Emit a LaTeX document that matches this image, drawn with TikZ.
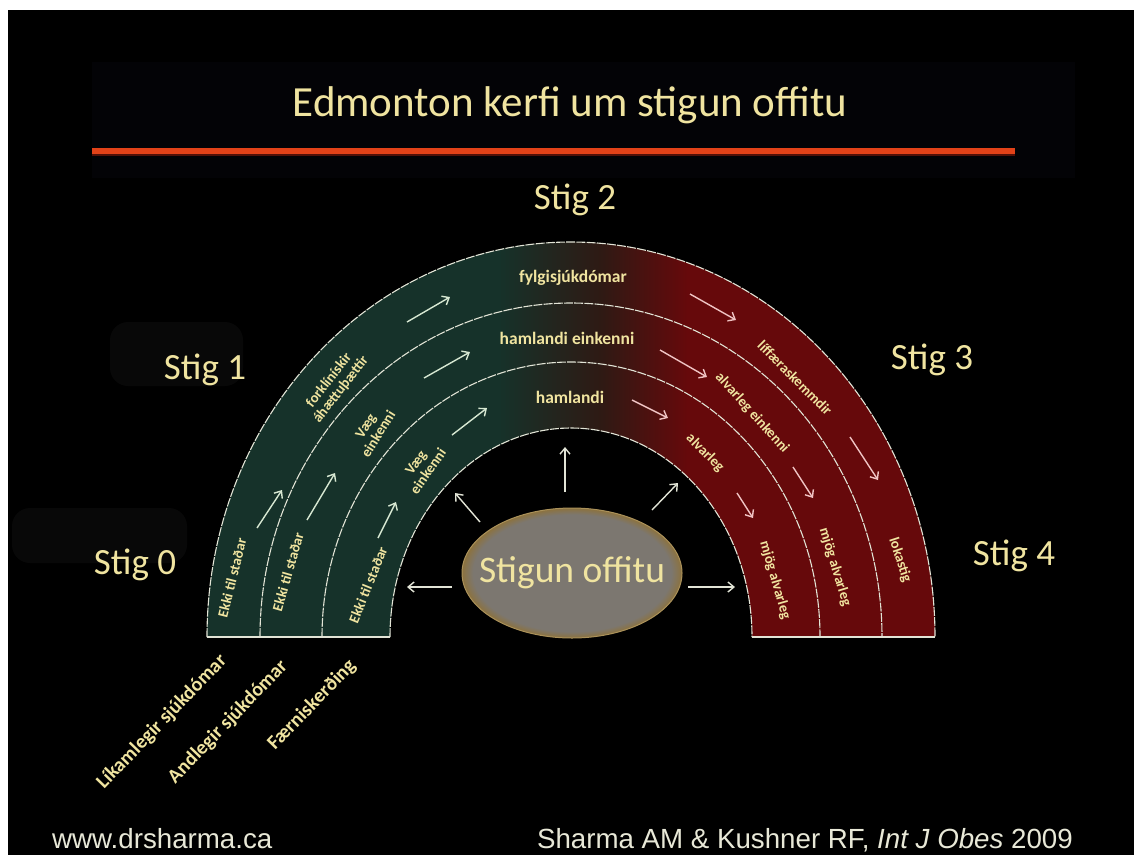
\documentclass[tikz,border=0pt]{standalone}
\usepackage{fontspec}
\setmainfont{Carlito}
\newfontfamily\arialfont{Liberation Sans}
\usetikzlibrary{arrows.meta}

\definecolor{txt}{RGB}{240,228,160}
\definecolor{archgreen}{RGB}{22,50,42}
\definecolor{archdark}{RGB}{46,26,20}
\definecolor{archred}{RGB}{102,9,11}
\definecolor{rulecol}{RGB}{226,66,24}
\definecolor{ruleshadow}{RGB}{80,16,8}
\definecolor{linecol}{RGB}{226,228,214}
\definecolor{arrgreen}{RGB}{215,232,210}
\definecolor{arrred}{RGB}{240,196,196}
\definecolor{corefill}{RGB}{124,119,112}
\definecolor{coreedge}{RGB}{140,114,62}
\definecolor{corerim}{RGB}{170,145,90}
\definecolor{footcol}{RGB}{232,232,215}
\definecolor{titlebox}{RGB}{3,3,6}
\definecolor{blob}{RGB}{8,8,8}

% left-to-right colour change of the arch (bounding box spans 25bp..75bp)
\pgfdeclarehorizontalshading{archshade}{100bp}{color(0bp)=(archgreen); color(45bp)=(archgreen); color(52bp)=(archdark); color(58bp)=(archred); color(100bp)=(archred)}
% grey disc with a golden rim
\pgfdeclareradialshading{coreshade}{\pgfpoint{0bp}{0bp}}{color(0bp)=(corefill); color(22.5bp)=(corefill); color(25bp)=(coreedge); color(50bp)=(coreedge)}

\begin{document}
\begin{tikzpicture}[x=1pt,y=-1pt,
  stiglabel/.style={text=txt, font=\fontsize{37}{40}\selectfont, inner sep=0pt},
  bandtext/.style={text=txt, font=\fontsize{14.5}{15}\selectfont\bfseries, inner sep=0pt, align=center},
  toptext/.style={text=txt, font=\fontsize{17.5}{18}\selectfont\bfseries, inner sep=0pt},
  sidelabel/.style={text=txt, font=\fontsize{20}{22}\selectfont\bfseries, inner sep=0pt, rotate=46},
  bandline/.style={draw=linecol, line width=1.1pt, dash pattern=on 9pt off 1.2pt},
  baseedge/.style={draw=linecol, line width=1.3pt},
  arrG/.style={draw=arrgreen, line width=1.4pt, -{Straight Barb[length=6pt,width=10pt]}},
  arrR/.style={draw=arrred, line width=1.4pt, -{Straight Barb[length=6pt,width=10pt]}},
  arrC/.style={draw=linecol, line width=1.4pt, -{Straight Barb[length=6pt,width=10pt]}},
  footer/.style={text=footcol, font=\arialfont\fontsize{27.7}{30}\selectfont, inner sep=0pt}
]
\useasboundingbox (0,0) rectangle (1134,855);
\fill[white] (0,0) rectangle (1134,855);
\fill[black] (8,10) rectangle (1134,855);

% title area
\fill[titlebox] (92,62) rectangle (1075,178);
\node[text=txt, font=\fontsize{43}{46}\selectfont, inner sep=0pt] (title) at (570,105) {Edmonton kerfi um stigun offitu};
\coordinate (ruleL) at (92,151);
\coordinate (ruleR) at (1015,151);
\draw[ruleshadow, line width=4pt] ([yshift=-3pt]ruleL) -- ([yshift=-3pt]ruleR);
\draw[rulecol, line width=6pt] (ruleL) -- (ruleR);

% faint patches behind two stage labels
\fill[blob, rounded corners=18pt] (110,322) rectangle (243,386);
\fill[blob, rounded corners=18pt] (12,508) rectangle (187,563);

% the arch
\path[shading=archshade] (207,637) arc[start angle=180,end angle=360,x radius=364,y radius=395]
  -- (752,637) arc[start angle=0,end angle=-180,x radius=181,y radius=209] -- cycle;
\draw[bandline] (207,637) arc[start angle=180,end angle=360,x radius=364,y radius=395];
\draw[bandline] (260,637) arc[start angle=180,end angle=360,x radius=311,y radius=334];
\draw[bandline] (322,637) arc[start angle=180,end angle=360,x radius=249,y radius=275];
\draw[bandline] (390,637) arc[start angle=180,end angle=360,x radius=181,y radius=209];
\draw[baseedge] (207,637) -- (390,637);
\draw[baseedge] (752,637) -- (935,637);

% stage labels
\node[stiglabel] (s0) at (135,565) {Stig 0};
\node[stiglabel] (s1) at (205,370) {Stig 1};
\node[stiglabel] (s2) at (575,200) {Stig 2};
\node[stiglabel] (s3) at (932,360) {Stig 3};
\node[stiglabel] (s4) at (1014,556) {Stig 4};

% outer band
\node[bandtext, rotate=76] (e1) at (232,578) {Ekki til staðar};
\node[bandtext, rotate=52] (f1) at (335,385) {forklínískir\\áhættuþættir};
\node[toptext] (t1) at (573,278) {fylgisjúkdómar};
\node[bandtext, rotate=-45] (l1) at (795,378) {líffæraskemmdir};
\node[bandtext, rotate=-72] (k1) at (900,560) {lokastig};

% middle band
\node[bandtext, rotate=74] (e2) at (288,572) {Ekki til staðar};
\node[bandtext, rotate=58] (v1) at (372,430) {Væg\\einkenni};
\node[toptext] (t2) at (567,338) {hamlandi einkenni};
\node[bandtext, rotate=-48] (l2) at (752,413) {alvarleg einkenni};
\node[bandtext, rotate=-73] (m2) at (835,567) {mjög alvarleg};

% inner band
\node[bandtext, rotate=68] (e3) at (368,585) {Ekki til staðar};
\node[bandtext, rotate=55] (v2) at (422,467) {Væg\\einkenni};
\node[toptext] (t3) at (570,397) {hamlandi};
\node[bandtext, rotate=-45] (l3) at (705,453) {alvarleg};
\node[bandtext, rotate=-74] (m3) at (775,580) {mjög alvarleg};

% progression arrows inside the bands
\foreach \n/\sx/\sy/\ex/\ey/\st in {
  a1/257/528/282/490/arrG, a2/407/322/450/297/arrG, a3/690/294/736/320/arrR, a4/850/437/878/480/arrR,
  a5/307/520/335/473/arrG, a6/424/378/470/352/arrG, a7/660/350/707/377/arrR, a8/793/467/813/498/arrR,
  a9/378/538/396/502/arrG, a10/452/435/487/408/arrG, a11/632/400/668/418/arrR, a12/737/493/753/518/arrR}
{
  \coordinate (\n s) at (\sx,\sy);
  \coordinate (\n e) at (\ex,\ey);
  \draw[\st] (\n s) -- (\n e);
}

% central disc and its rays
\path[shading=coreshade] (572,573) ellipse[x radius=110, y radius=65];
\draw[corerim, line width=1pt] (572,573) ellipse[x radius=110, y radius=65];
\node[text=txt, font=\fontsize{37.5}{40}\selectfont, inner sep=0pt] (core) at (572,573) {Stigun offitu};
\foreach \n/\sx/\sy/\ex/\ey in {
  r1/452/587/407/587, r2/480/522/455/493, r3/565/492/565/447, r4/652/510/678/483, r5/688/587/735/587}
{
  \coordinate (\n s) at (\sx,\sy);
  \coordinate (\n e) at (\ex,\ey);
  \draw[arrC] (\n s) -- (\n e);
}

% domains below the arch
\node[sidelabel] (d1) at (162,722) {Líkamlegir sjúkdómar};
\node[sidelabel] (d2) at (228,722) {Andlegir sjúkdómar};
\node[sidelabel] (d3) at (312,705) {Færniskerðing};

% footer
\node[footer, anchor=base west] (web) at (52,848) {www.drsharma.ca};
\node[footer, anchor=base east] (ref) at (1073,848) {Sharma AM \& Kushner RF, \textit{Int J Obes} 2009};
\end{tikzpicture}
\end{document}
